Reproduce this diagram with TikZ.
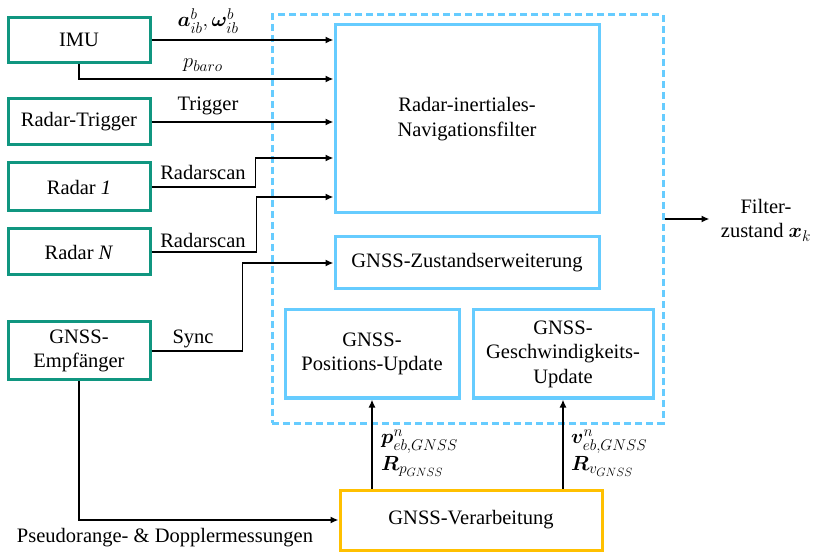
\RequirePackage{fix-cm}
\documentclass[tikz,border=0pt]{standalone}
\usepackage{amsmath}
\usepackage{bm}
\usepackage{fontspec}
\setmainfont{Liberation Serif}
\DeclareMathSizes{20.5}{20.5}{15.5}{12}
\usetikzlibrary{arrows.meta,calc}
\definecolor{teal1}{RGB}{16,150,128}
\definecolor{blue1}{RGB}{102,204,255}
\definecolor{yel1}{RGB}{255,192,0}
\tikzset{
  gbox/.style={draw=teal1, line width=3pt, minimum width=142pt, align=center, inner sep=0pt},
  bbox/.style={draw=blue1, line width=3pt, align=center, inner sep=0pt},
  ybox/.style={draw=yel1, line width=3pt, align=center, inner sep=0pt},
  arr/.style={draw=black, line width=1.8pt, -{Latex[length=8pt,width=7pt]}},
  lbl/.style={inner sep=0pt, align=center},
}
\begin{document}
\begin{tikzpicture}[x=1pt,y=-1pt,font=\rmfamily\fontsize{20.5}{24.5}\selectfont]
\useasboundingbox (0,0) rectangle (817,553);
% dashed frame
\node[draw=blue1, line width=3pt, dash pattern=on 7pt off 4pt, minimum width=391pt, minimum height=408pt, inner sep=0pt] (frame) at (467.5,219) {};
% inner blocks
\node[bbox, minimum width=264pt, minimum height=188pt] (filt) at (467,119) {Radar-inertiales-\\Navigationsfilter};
\node[bbox, minimum width=264pt, minimum height=52pt] (zust) at (467,263) {GNSS-Zustandserweiterung};
\node[bbox, minimum width=174pt, minimum height=88pt] (pos) at (372,354) {GNSS-\\Positions-Update};
\node[bbox, minimum width=180pt, minimum height=88pt] (vel) at (563,354) {GNSS-\\Geschwindigkeits-\\Update};
\node[ybox, minimum width=262pt, minimum height=60pt] (proc) at (471,520) {GNSS-Verarbeitung};
% left blocks
\node[gbox, minimum height=45pt] (imu) at (79,40) {IMU};
\node[gbox, minimum height=46pt] (trig) at (79,122) {Radar-Trigger};
\node[gbox, minimum height=48pt] (r1) at (79,187) {Radar \textit{1}};
\node[gbox, minimum height=46pt] (rn) at (79,252) {Radar \textit{N}};
\node[gbox, minimum height=58pt] (gnss) at (79,351) {GNSS-\\Empfänger};
% connectors
\draw[arr] (imu.east) -- (imu.east -| filt.west);
\draw[arr] (imu.south) |- ([yshift=40pt]filt.west);
\draw[arr] (trig.east) -- (trig.east -| filt.west);
\draw[arr] (r1.east) -- ++(104,0) |- ([yshift=-39pt]filt.west);
\draw[arr] (rn.east) -- ++(105,0) |- ([yshift=-78pt]filt.west);
\draw[arr] (gnss.east) -- ++(91,0) |- (zust.west);
\draw[arr] (gnss.south) |- (proc.west);
\draw[arr] (proc.north -| pos.south) -- (pos.south);
\draw[arr] (proc.north -| vel.south) -- (vel.south);
\coordinate (out) at ($(frame.east)+(45,0)$);
\draw[arr] (frame.east) -- (out);
% labels
\node[lbl] (la) at (208,21) {$\bm{a}^b_{ib},\bm{\omega}^b_{ib}$};
\node[lbl] (lp) at (203,65) {$p_{baro}$};
\node[lbl] (lt) at (208,106) {Trigger};
\node[lbl] (l1) at (203,172) {Radarscan};
\node[lbl] (l2) at (203,240) {Radarscan};
\node[lbl] (ls) at (193,339) {Sync};
\node[lbl] (lpd) at (165,538) {Pseudorange- \& Dopplermessungen};
\node[lbl, anchor=west, align=left] (lpe) at (381,453) {$\bm{p}^n_{eb,GNSS}$\\[2pt]$\bm{R}_{p_{GNSS}}$};
\node[lbl, anchor=west, align=left] (lve) at (571,453) {$\bm{v}^n_{eb,GNSS}$\\[2pt]$\bm{R}_{v_{GNSS}}$};
\node[lbl] (lx) at (766,220) {Filter-\\zustand $\bm{x}_k$};
\end{tikzpicture}
\end{document}
